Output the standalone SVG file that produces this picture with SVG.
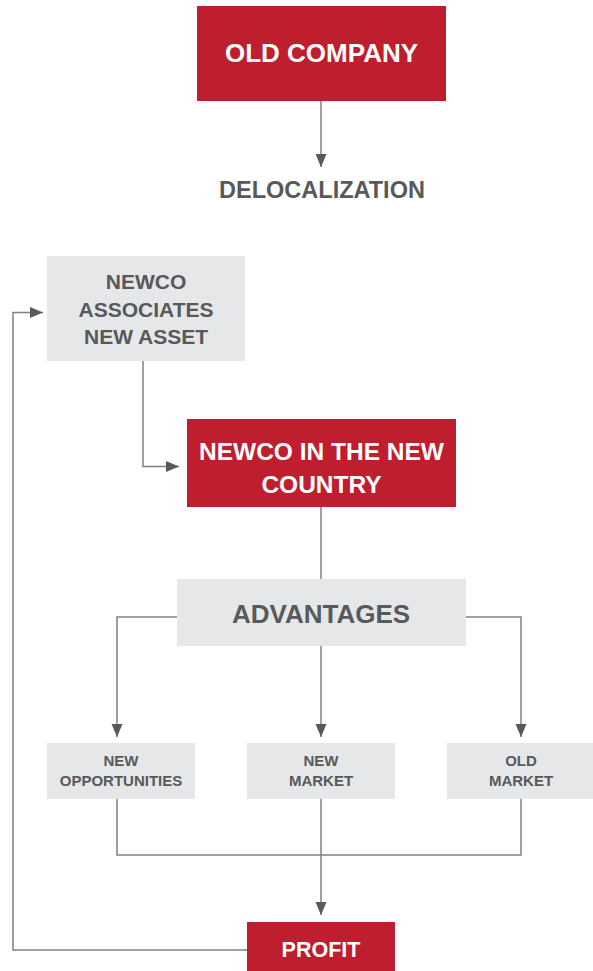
<svg xmlns="http://www.w3.org/2000/svg" width="593" height="971" viewBox="0 0 593 971">
<style>
.red{fill:#be1e2d}
.grey{fill:#e6e7e8}
text{font-family:"Liberation Sans",Arial,sans-serif;font-weight:bold;text-anchor:middle}
.w{fill:#ffffff}
.g{fill:#58595b}
.ln{fill:none;stroke:#808184;stroke-width:1.5}
</style>
<defs>
<marker id="ah" markerUnits="userSpaceOnUse" markerWidth="14" markerHeight="12" refX="13" refY="5.5" orient="auto">
<path d="M0,0 L13,5.5 L0,11 Z" fill="#58595b"/>
</marker>
</defs>
<g id="connectors">
<path class="ln" d="M321,101 V167" marker-end="url(#ah)"/>
<path class="ln" d="M143,361 V466.5 H179" marker-end="url(#ah)"/>
<path class="ln" d="M321,507 V579"/>
<path class="ln" d="M177,617 H117 V737" marker-end="url(#ah)"/>
<path class="ln" d="M321,646 V737" marker-end="url(#ah)"/>
<path class="ln" d="M465,617 H521 V737" marker-end="url(#ah)"/>
<path class="ln" d="M117,799 V855 H521 V799"/>
<path class="ln" d="M321,799 V915" marker-end="url(#ah)"/>
<path class="ln" d="M247,950 H13 V312.5 H43" marker-end="url(#ah)"/>
</g>
<g id="old-company">
<rect class="red" x="197" y="6" width="249" height="95"/>
<text class="w" x="321.5" y="62" font-size="26">OLD COMPANY</text>
</g>
<g id="delocalization">
<text class="g" x="322" y="198" font-size="23.5">DELOCALIZATION</text>
</g>
<g id="newco-associates">
<rect class="grey" x="47" y="256" width="198" height="105"/>
<text class="g" font-size="21"><tspan x="146" y="289">NEWCO</tspan><tspan x="146" y="317">ASSOCIATES</tspan><tspan x="146" y="344">NEW ASSET</tspan></text>
</g>
<g id="newco-new-country">
<rect class="red" x="187" y="419" width="269" height="88"/>
<text class="w" font-size="24.5"><tspan x="321.5" y="460">NEWCO IN THE NEW</tspan><tspan x="321.5" y="492.5">COUNTRY</tspan></text>
</g>
<g id="advantages">
<rect class="grey" x="177" y="579" width="289" height="67"/>
<text class="g" x="321" y="623" font-size="26">ADVANTAGES</text>
</g>
<g id="new-opportunities">
<rect class="grey" x="47" y="743" width="148" height="56"/>
<text class="g" font-size="15"><tspan x="121" y="766">NEW</tspan><tspan x="121" y="786">OPPORTUNITIES</tspan></text>
</g>
<g id="new-market">
<rect class="grey" x="247" y="743" width="148" height="56"/>
<text class="g" font-size="15"><tspan x="321" y="766">NEW</tspan><tspan x="321" y="786">MARKET</tspan></text>
</g>
<g id="old-market">
<rect class="grey" x="447" y="743" width="148" height="56"/>
<text class="g" font-size="15"><tspan x="521" y="766">OLD</tspan><tspan x="521" y="786">MARKET</tspan></text>
</g>
<g id="profit">
<rect class="red" x="247" y="922" width="148" height="49"/>
<text class="w" x="321" y="957" font-size="21.5">PROFIT</text>
</g>
</svg>
